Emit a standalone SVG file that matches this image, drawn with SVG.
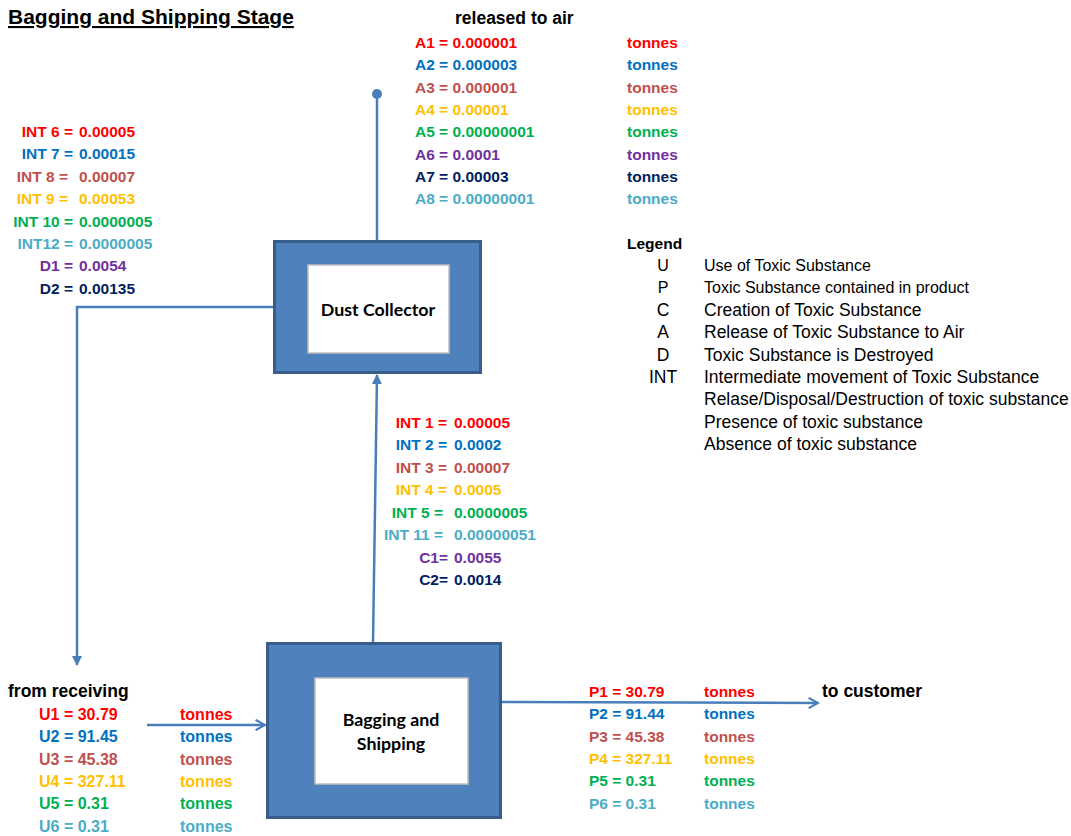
<svg xmlns="http://www.w3.org/2000/svg" width="1071" height="836" viewBox="0 0 1071 836">
<style>
text{font-family:"Liberation Sans",Arial,sans-serif;}
.b{font-weight:bold;font-size:15.5px;}
.h{font-weight:bold;font-size:17.5px;fill:#000;}
.lg{font-size:17.5px;fill:#000;}
.ls{font-size:16px;fill:#000;}
.e{text-anchor:end;}
.m{text-anchor:middle;}
.r{fill:#FF0000}.bl{fill:#0070C0}.br{fill:#C0504D}.go{fill:#FFC000}.gr{fill:#00B050}.lb{fill:#4BACC6}.pu{fill:#7030A0}.nv{fill:#002060}.k{fill:#000}
.outer{fill:#4F81BD;stroke:#385D8A;stroke-width:3;}
.inner{fill:#fff;stroke:#BFBFBF;stroke-width:1.5;}
.nt{font-family:Lato,"Open Sans",sans-serif;font-weight:bold;font-size:17.8px;fill:#000;text-anchor:middle;}
.c{fill:none;stroke:#4A7EBB;stroke-width:2.5;}
</style>
<defs>
<marker id="tri" viewBox="0 0 10 10" refX="9" refY="5" markerWidth="4" markerHeight="4" orient="auto" markerUnits="strokeWidth">
<path d="M0,0 L10,5 L0,10 z" fill="#4A7EBB"/>
</marker>
<marker id="open" viewBox="0 0 12 12" refX="10" refY="6" markerWidth="5" markerHeight="5" orient="auto" markerUnits="strokeWidth">
<path d="M1,1 L10,6 L1,11" fill="none" stroke="#4A7EBB" stroke-width="2"/>
</marker>
</defs>

<text x="8" y="24" style="font-weight:bold;font-size:21px;text-decoration:underline" class="k">Bagging and Shipping Stage</text>

<g id="connectors">
<line class="c" x1="377" y1="241" x2="377" y2="94"/>
<circle cx="377" cy="94" r="5" fill="#4A7EBB"/>
<line class="c" x1="373" y1="643" x2="377" y2="375" marker-end="url(#tri)"/>
<polyline class="c" points="274,307 77,307 77,665" marker-end="url(#tri)"/>
<line class="c" x1="147" y1="725" x2="265" y2="725" marker-end="url(#open)"/>
<line class="c" x1="501" y1="702" x2="818" y2="703" marker-end="url(#open)"/>
</g>

<g id="dust-collector">
<rect class="outer" x="274.5" y="241.5" width="206" height="131"/>
<rect class="inner" x="308" y="265" width="141" height="88"/>
<text class="nt" x="378" y="316">Dust Collector</text>
</g>

<g id="bagging-shipping">
<rect class="outer" x="267.5" y="643.5" width="233" height="174"/>
<rect class="inner" x="315" y="678" width="153" height="106"/>
<text class="nt" x="391" y="726">Bagging and</text>
<text class="nt" x="391" y="750">Shipping</text>
</g>

<g id="int-left" class="b">
<text class="e r" x="73" y="137">INT 6 =</text><text class="r" x="79" y="137">0.00005</text>
<text class="e bl" x="73" y="159.4">INT 7 =</text><text class="bl" x="79" y="159.4">0.00015</text>
<text class="e br" x="68" y="181.8">INT 8 =</text><text class="br" x="79" y="181.8">0.00007</text>
<text class="e go" x="68" y="204.2">INT 9 =</text><text class="go" x="79" y="204.2">0.00053</text>
<text class="e gr" x="73" y="226.6">INT 10 =</text><text class="gr" x="79" y="226.6">0.0000005</text>
<text class="e lb" x="73" y="249">INT12 =</text><text class="lb" x="79" y="249">0.0000005</text>
<text class="e pu" x="73" y="271.4">D1 =</text><text class="pu" x="79" y="271.4">0.0054</text>
<text class="e nv" x="73" y="293.8">D2 =</text><text class="nv" x="79" y="293.8">0.00135</text>
</g>

<g id="released-to-air" class="b">
<text class="h" x="455" y="24">released to air</text>
<text class="r" x="415" y="48">A1 = 0.000001</text><text class="r" x="627" y="48">tonnes</text>
<text class="bl" x="415" y="70.3">A2 = 0.000003</text><text class="bl" x="627" y="70.3">tonnes</text>
<text class="br" x="415" y="92.6">A3 = 0.000001</text><text class="br" x="627" y="92.6">tonnes</text>
<text class="go" x="415" y="114.9">A4 = 0.00001</text><text class="go" x="627" y="114.9">tonnes</text>
<text class="gr" x="415" y="137.2">A5 = 0.00000001</text><text class="gr" x="627" y="137.2">tonnes</text>
<text class="pu" x="415" y="159.5">A6 = 0.0001</text><text class="pu" x="627" y="159.5">tonnes</text>
<text class="nv" x="415" y="181.8">A7 = 0.00003</text><text class="nv" x="627" y="181.8">tonnes</text>
<text class="lb" x="415" y="204.1">A8 = 0.00000001</text><text class="lb" x="627" y="204.1">tonnes</text>
</g>

<g id="legend">
<text class="b k" x="627" y="248.5">Legend</text>
<text class="ls m" x="663" y="271">U</text><text class="ls" x="704" y="271">Use of Toxic Substance</text>
<text class="ls m" x="663" y="293.3">P</text><text class="ls" x="704" y="293.3">Toxic Substance contained in product</text>
<text class="lg m" x="663" y="316">C</text><text class="lg" x="704" y="316">Creation of Toxic Substance</text>
<text class="lg m" x="663" y="338.3">A</text><text class="lg" x="704" y="338.3">Release of Toxic Substance to Air</text>
<text class="lg m" x="663" y="360.6">D</text><text class="lg" x="704" y="360.6">Toxic Substance is Destroyed</text>
<text class="lg m" x="663" y="382.9">INT</text><text class="lg" x="704" y="382.9">Intermediate movement of Toxic Substance</text>
<text class="lg" x="704" y="405.2">Relase/Disposal/Destruction of toxic substance</text>
<text class="lg" x="704" y="427.5">Presence of toxic substance</text>
<text class="lg" x="704" y="449.8">Absence of toxic substance</text>
</g>

<g id="int-middle" class="b">
<text class="e r" x="447" y="427.5">INT 1 =</text><text class="r" x="454" y="427.5">0.00005</text>
<text class="e bl" x="447" y="450">INT 2 =</text><text class="bl" x="454" y="450">0.0002</text>
<text class="e br" x="447" y="472.5">INT 3 =</text><text class="br" x="454" y="472.5">0.00007</text>
<text class="e go" x="447" y="495">INT 4 =</text><text class="go" x="454" y="495">0.0005</text>
<text class="e gr" x="443" y="517.5">INT 5 =</text><text class="gr" x="454" y="517.5">0.0000005</text>
<text class="e lb" x="443" y="540">INT 11 =</text><text class="lb" x="454" y="540">0.00000051</text>
<text class="e pu" x="448" y="562.5">C1=</text><text class="pu" x="454" y="562.5">0.0055</text>
<text class="e nv" x="448" y="585">C2=</text><text class="nv" x="454" y="585">0.0014</text>
</g>

<g id="from-receiving" class="b" style="font-size:16px">
<text class="h" x="8" y="697">from receiving</text>
<text class="r" x="39" y="720">U1 = 30.79</text><text class="r" x="180" y="720">tonnes</text>
<text class="bl" x="39" y="742.3">U2 = 91.45</text><text class="bl" x="180" y="742.3">tonnes</text>
<text class="br" x="39" y="764.6">U3 = 45.38</text><text class="br" x="180" y="764.6">tonnes</text>
<text class="go" x="39" y="786.9">U4 = 327.11</text><text class="go" x="180" y="786.9">tonnes</text>
<text class="gr" x="39" y="809.2">U5 = 0.31</text><text class="gr" x="180" y="809.2">tonnes</text>
<text class="lb" x="39" y="831.5">U6 = 0.31</text><text class="lb" x="180" y="831.5">tonnes</text>
</g>

<g id="to-customer" class="b">
<text class="h" x="822" y="697">to customer</text>
<text class="r" x="589" y="697">P1 = 30.79</text><text class="r" x="704" y="697">tonnes</text>
<text class="bl" x="589" y="719.3">P2 = 91.44</text><text class="bl" x="704" y="719.3">tonnes</text>
<text class="br" x="589" y="741.6">P3 = 45.38</text><text class="br" x="704" y="741.6">tonnes</text>
<text class="go" x="589" y="763.9">P4 = 327.11</text><text class="go" x="704" y="763.9">tonnes</text>
<text class="gr" x="589" y="786.2">P5 = 0.31</text><text class="gr" x="704" y="786.2">tonnes</text>
<text class="lb" x="589" y="808.5">P6 = 0.31</text><text class="lb" x="704" y="808.5">tonnes</text>
</g>
</svg>
